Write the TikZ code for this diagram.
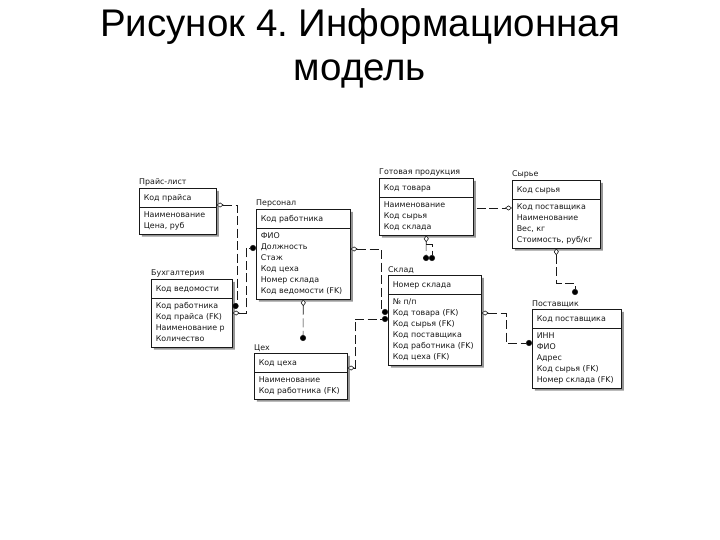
\documentclass[tikz,border=0pt]{standalone}
\usepackage{fontspec}
\setmainfont{Liberation Sans}
\newfontfamily\erfont{DejaVu Sans}
\usetikzlibrary{arrows.meta,positioning,shapes.multipart,shadows}
\definecolor{ink}{RGB}{25,25,25}
\definecolor{shade}{RGB}{150,150,150}
\tikzset{
  entity/.style = {rectangle split, rectangle split parts=2, draw=ink, fill=white,
                   text=ink, align=left, rectangle split part align=left,
                   inner xsep=4.5pt, inner ysep=2pt, line width=0.6pt,
                   font=\erfont\fontsize{7.9}{11}\selectfont, anchor=north west,
                   drop shadow={shadow xshift=2.5pt, shadow yshift=-2.5pt,
                                fill=shade, opacity=1}},
  ename/.style  = {anchor=south west, inner xsep=0pt, inner ysep=1.5pt, text=ink,
                   font=\erfont\fontsize{7.9}{11}\selectfont},
  title/.style  = {font=\fontsize{38.5}{44}\selectfont, align=center,
                   inner sep=0pt, text=black},
  link/.style   = {draw=ink, line width=0.6pt, dash pattern=on 9pt off 3.5pt},
  p2c/.style    = {link, {Diamond[fill=white, length=7pt, width=5pt]}-{Circle[length=6pt]}},
  x2c/.style    = {link, -{Circle[length=6pt]}},
  x2p/.style    = {link, -{Diamond[fill=white, length=7pt, width=5pt]}},
}
\newcommand{\kf}[1]{\rule[-4.25pt]{0pt}{14.5pt}#1}
\newcommand{\af}[1]{\strut#1\strut}

\begin{document}
\begin{tikzpicture}[x=1pt, y=-1pt]
\useasboundingbox (0,0) rectangle (720,540);

\node[title, anchor=north] (ttl) at (360,8) {Рисунок 4.\ Информационная\\модель};

% entities
\node[entity, minimum width=77pt] (prl) at (139,188)
  {\kf{Код прайса}\nodepart{two}\af{Наименование\\Цена, руб}};
\node[entity, minimum width=94pt] (pers) at (256,209)
  {\kf{Код работника}\nodepart{two}\af{ФИО\\Должность\\Стаж\\Код цеха\\Номер склада\\Код ведомости (FK)}};
\node[entity, minimum width=81pt] (buh) at (151,279)
  {\kf{Код ведомости}\nodepart{two}\af{Код работника\\Код прайса (FK)\\Наименование р\\Количество}};
\node[entity, minimum width=93pt] (ceh) at (254,353)
  {\kf{Код цеха}\nodepart{two}\af{Наименование\\Код работника (FK)}};
\node[entity, minimum width=94pt] (gp) at (379,178)
  {\kf{Код товара}\nodepart{two}\af{Наименование\\Код сырья\\Код склада}};
\node[entity, minimum width=88pt] (syr) at (512,180)
  {\kf{Код сырья}\nodepart{two}\af{Код поставщика\\Наименование\\Вес, кг\\Стоимость, руб/кг}};
\node[entity, minimum width=93pt] (skl) at (388,275)
  {\kf{Номер склада}\nodepart{two}\af{№ п/п\\Код товара (FK)\\Код сырья (FK)\\Код поставщика\\Код работника (FK)\\Код цеха (FK)}};
\node[entity, minimum width=89pt] (post) at (532,309)
  {\kf{Код поставщика}\nodepart{two}\af{ИНН\\ФИО\\Адрес\\Код сырья (FK)\\Номер склада (FK)}};

% entity names
\node[ename] (prl-l)  at (prl.north west)  {Прайс-лист};
\node[ename] (pers-l) at (pers.north west) {Персонал};
\node[ename] (buh-l)  at (buh.north west)  {Бухгалтерия};
\node[ename] (ceh-l)  at (ceh.north west)  {Цех};
\node[ename] (gp-l)   at (gp.north west)   {Готовая продукция};
\node[ename] (syr-l)  at (syr.north west)  {Сырье};
\node[ename] (skl-l)  at (skl.north west)  {Склад};
\node[ename] (post-l) at (post.north west) {Поставщик};

% free ends
\coordinate (ceh-dot)  at (303,341);
\coordinate (gp-dot1)  at (426,261);
\coordinate (gp-fork)  at (426,244);
\coordinate (gp-dot2)  at (432,261);
\coordinate (post-dot) at (575,295);

% relationships
\draw[p2c] (prl.east |- 0,205) -| (237,306) -- (buh.east |- 0,306);
\draw[p2c] (buh.east |- 0,313) -| (246,248) -- (pers.west |- 0,248);
\draw[p2c] (pers.south) -- (ceh-dot);
\draw[p2c] (pers.east |- 0,249) -| (381,312) -- (skl.west |- 0,312);
\draw[p2c] (ceh.east |- 0,368) -| (355,319) -- (skl.west |- 0,319);
\draw[p2c] (gp.south) -- (gp-dot1);
\draw[x2c] (gp-fork) -| (gp-dot2);
\draw[x2p, shorten <=3pt] (gp.east |- 0,208) -- (syr.west |- 0,208);
\draw[p2c] (syr.south) -- ++(0,35) -| (post-dot);
\draw[p2c] (skl.east |- 0,313) -| (506,343) -- (post.west |- 0,343);
\end{tikzpicture}
\end{document}
